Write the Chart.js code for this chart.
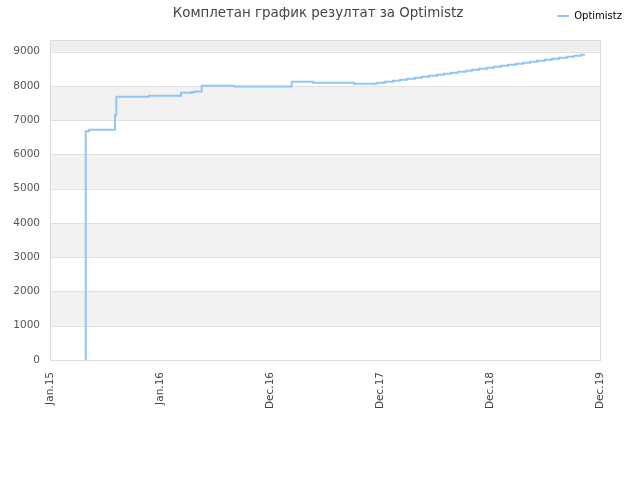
<!DOCTYPE html>
<html>
<head>
<meta charset="utf-8">
<script src="https://cdn.jsdelivr.net/npm/chart.js@4/dist/chart.umd.min.js"></script>
<style>
  html, body { margin: 0; padding: 0; background: #fff; }
  #wrap { width: 640px; height: 480px; }
</style>
</head>
<body>
<div id="wrap"><canvas id="lineChart"></canvas></div>
<script>
// x axis: positions in "tick units" (0 = Jan.15 ... 5 = Dec.19)
var xLabels = ['Jan.15', 'Jan.16', 'Dec.16', 'Dec.17', 'Dec.18', 'Dec.19'];
var yTicks = [0, 1000, 2000, 3000, 4000, 5000, 6000, 7000, 8000, 9000];
var seriesName = 'Optimistz';
var titleText = 'Комплетан график резултат за Optimistz';

var xPos = [0.325, 0.325, 0.355, 0.591, 0.603, 0.900, 1.191, 1.291, 1.321, 1.379,
            1.673, 1.955, 2.197, 2.391, 2.764, 2.955,
            2.977, 3.045, 3.118, 3.182, 3.245, 3.318, 3.382, 3.445, 3.518, 3.582,
            3.645, 3.709, 3.782, 3.836, 3.900, 3.973, 4.036, 4.100, 4.164, 4.236,
            4.300, 4.364, 4.427, 4.500, 4.564, 4.627, 4.700, 4.764, 4.827, 4.864];
var scores = [0, 6680, 6720, 7140, 7680, 7710, 7800, 7820, 7840, 8005,
              7985, 7980, 8120, 8095, 8065, 8070,
              8095, 8124, 8153, 8183, 8212, 8241, 8270, 8299, 8329, 8358,
              8387, 8416, 8445, 8475, 8504, 8533, 8562, 8591, 8621, 8650,
              8679, 8708, 8737, 8767, 8796, 8825, 8854, 8883, 8913, 8913];

var points = xPos.map(function (x, i) { return { x: x, y: scores[i] }; });

// alternating background bands + plot frame + title
var bandsPlugin = {
    id: 'bands',
    beforeDatasetsDraw: function (chart) {
        var ctx = chart.ctx, a = chart.chartArea, y = chart.scales.y;
        ctx.save();
        for (var v = 1000; v < y.max; v += 2000) {
            var top = y.getPixelForValue(Math.min(v + 1000, y.max));
            var bot = y.getPixelForValue(v);
            ctx.fillStyle = (v + 1000 >= y.max) ? '#eeeeee' : '#f2f2f2';
            ctx.fillRect(a.left, top, a.right - a.left, bot - top);
        }
        ctx.strokeStyle = '#e0e0e0';
        ctx.lineWidth = 1;
        yTicks.forEach(function (t) {
            if (t === 0) return;
            var py = Math.round(y.getPixelForValue(t)) + 0.5;
            ctx.beginPath();
            ctx.moveTo(a.left, py);
            ctx.lineTo(a.right, py);
            ctx.stroke();
        });
        ctx.strokeStyle = '#dcdcdc';
        ctx.strokeRect(Math.round(a.left) + 0.5, Math.round(a.top) + 0.5,
                       Math.round(a.right - a.left), Math.round(a.bottom - a.top));
        ctx.restore();
    },
    afterDraw: function (chart) {
        var ctx = chart.ctx;
        ctx.save();
        ctx.font = '13.4px "DejaVu Sans"';
        ctx.fillStyle = '#444';
        ctx.textAlign = 'center';
        ctx.textBaseline = 'alphabetic';
        ctx.fillText(titleText, 318, 17);
        ctx.restore();
    }
};

var ctx = document.getElementById('lineChart').getContext('2d');
var myChart = new Chart(ctx, {
    type: 'line',
    data: {
        datasets: [{
            label: seriesName,
            data: points,
            borderColor: '#92c5f7',
            backgroundColor: '#92c5f7',
            borderWidth: 2,
            stepped: true,
            pointRadius: 0,
            fill: false
        }]
    },
    options: {
        responsive: true,
        maintainAspectRatio: false,
        animation: false,
        layout: { padding: { top: 1, right: 8, left: 0, bottom: 0 } },
        plugins: {
            title: { display: false },
            // empty subtitle used as a spacer under the legend row
            subtitle: {
                display: true,
                text: ' ',
                weight: 500,
                padding: 0,
                font: { size: 9, lineHeight: 1 }
            },
            tooltip: { enabled: false },
            legend: {
                position: 'top',
                align: 'end',
                labels: {
                    usePointStyle: true,
                    pointStyle: 'line',
                    pointStyleWidth: 12,
                    color: '#000',
                    padding: 10,
                    font: { family: 'DejaVu Sans', size: 10 }
                }
            }
        },
        scales: {
            x: {
                type: 'linear',
                min: 0,
                max: 5,
                grid: { display: false, drawTicks: false },
                border: { display: false },
                ticks: {
                    stepSize: 1,
                    minRotation: 90,
                    maxRotation: 90,
                    padding: 12,
                    color: '#444',
                    font: { family: 'DejaVu Sans', size: 10.5 },
                    callback: function (v) { return xLabels[v]; }
                },
                afterFit: function (s) { s.height = 120; s.paddingRight = 40; }
            },
            y: {
                min: 0,
                max: 9340,
                grid: { display: false, drawTicks: false },
                border: { display: false },
                afterBuildTicks: function (s) {
                    s.ticks = yTicks.map(function (v) { return { value: v }; });
                },
                ticks: {
                    padding: 10,
                    color: '#555',
                    font: { family: 'DejaVu Sans', size: 10.5 },
                    callback: function (v) { return String(v); }
                },
                afterFit: function (s) { s.width = 50; }
            }
        }
    },
    plugins: [bandsPlugin]
});
</script>
</body>
</html>
